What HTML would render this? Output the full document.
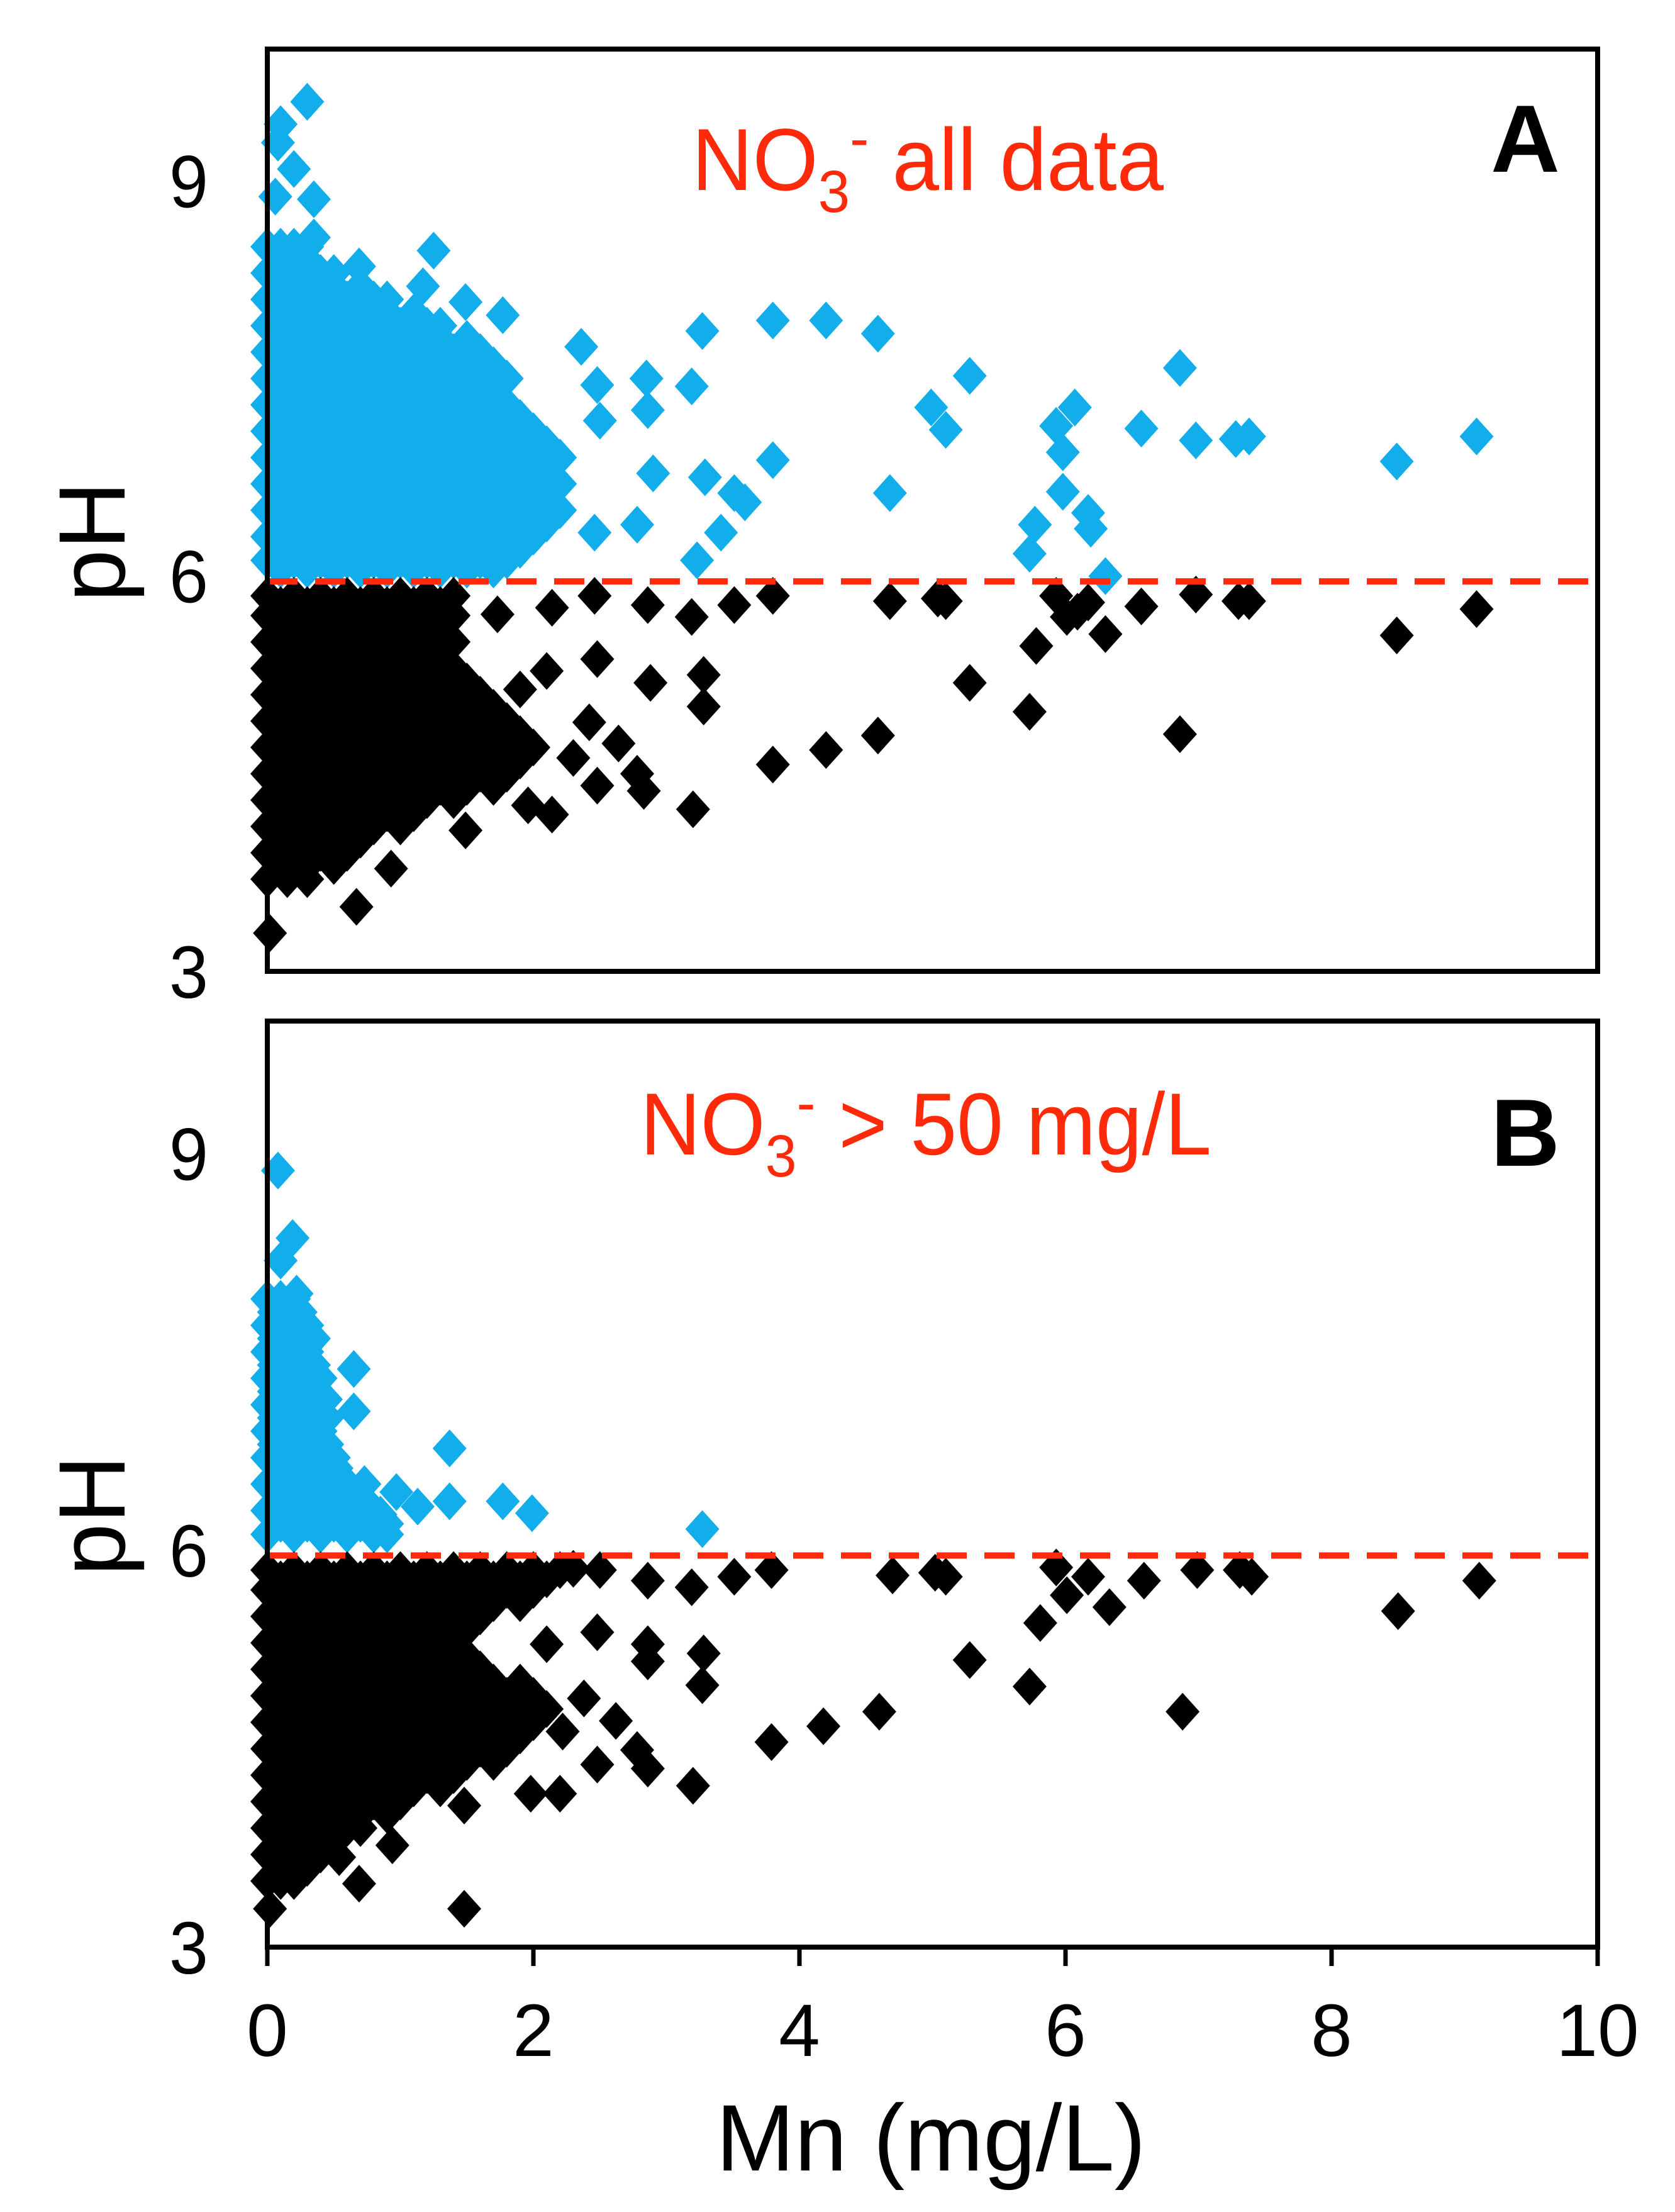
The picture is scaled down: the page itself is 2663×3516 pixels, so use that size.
<!DOCTYPE html>
<html><head><meta charset="utf-8"><style>
html,body{margin:0;padding:0;background:#fff;}
svg{display:block;}
text{font-family:"Liberation Sans",sans-serif;}
</style></head><body>
<svg id="chart" width="2663" height="3516" viewBox="0 0 2663 3516" xmlns="http://www.w3.org/2000/svg">
<g id="panelA"></g>
<g id="panelB"></g>
<g id="axes"></g>
</svg>
<script>
// ---------- DATA ----------
const xTicks = [0, 2, 4, 6, 8, 10];
const yTicks = [3, 6, 9];
const thresholdPH = 5.96;
// Dense cloud rows, panel A: "pH:Mn,Mn,..."
const blueRowsA = [
"8.5:0,0.1,0.2,0.3","8.4:0.1,0.3","8.3:0,0.2,0.4,0.5","8.2:0.1,0.3,0.5,0.7","8.1:0,0.2,0.4,0.6,0.8,0.9",
"8.0:0.1,0.3,0.5,0.7,0.9,1.1",
"7.9:0,0.2,0.4,0.6,0.8,1.0,1.2,1.3","7.8:0.1,0.3,0.5,0.7,0.9,1.1,1.3,1.5",
"7.7:0,0.2,0.4,0.6,0.8,1.0,1.2,1.4,1.6","7.6:0.1,0.3,0.5,0.7,0.9,1.1,1.3,1.5,1.7",
"7.5:0,0.2,0.4,0.6,0.8,1.0,1.2,1.4,1.6,1.8","7.4:0.1,0.3,0.5,0.7,0.9,1.1,1.3,1.5,1.7",
"7.3:0,0.2,0.4,0.6,0.8,1.0,1.2,1.4,1.6,1.8","7.2:0.1,0.3,0.5,0.7,0.9,1.1,1.3,1.5,1.7,1.9",
"7.1:0,0.2,0.4,0.6,0.8,1.0,1.2,1.4,1.6,1.8,2.0","7.0:0.1,0.3,0.5,0.7,0.9,1.1,1.3,1.5,1.7,1.9,2.1",
"6.9:0,0.2,0.4,0.6,0.8,1.0,1.2,1.4,1.6,1.8,2.0,2.2","6.8:0.1,0.3,0.5,0.7,0.9,1.1,1.3,1.5,1.7,1.9,2.1",
"6.7:0,0.2,0.4,0.6,0.8,1.0,1.2,1.4,1.6,1.8,2.0,2.2","6.6:0.1,0.3,0.5,0.7,0.9,1.1,1.3,1.5,1.7,1.9,2.1",
"6.5:0,0.2,0.4,0.6,0.8,1.0,1.2,1.4,1.6,1.8,2.0,2.2","6.4:0.1,0.3,0.5,0.7,0.9,1.1,1.3,1.5,1.7,1.9,2.1",
"6.3:0,0.2,0.4,0.6,0.8,1.0,1.2,1.4,1.6,1.8,2.0","6.2:0.1,0.3,0.5,0.7,0.9,1.1,1.3,1.5,1.7,1.9",
"6.12:0,0.2,0.4,0.6,0.8,1.0,1.2,1.4,1.6,1.8","6.05:0.1,0.3,0.5,0.7,0.9,1.1,1.3,1.5,1.7"
];
const blueOutA = [[0.30,9.60],[0.10,9.43],[0.08,9.29],[0.20,9.09],[0.06,8.88],[0.35,8.86],[0.35,8.57],[1.25,8.47],[0.69,8.35],[1.17,8.20],[1.49,8.08],[1.77,7.98],[2.36,7.74],[3.27,7.86],[3.80,7.94],[4.20,7.94],[4.59,7.84],[2.48,7.45],[2.85,7.50],[3.19,7.44],[2.50,7.18],[2.86,7.26],[5.28,7.52],[6.86,7.58],[4.99,7.28],[5.10,7.11],[6.07,7.28],[5.93,7.14],[6.57,7.12],[6.98,7.03],[7.28,7.04],[7.38,7.06],[8.49,6.87],[9.09,7.06],[3.80,6.88],[2.90,6.78],[3.29,6.75],[3.51,6.63],[3.59,6.56],[4.68,6.63],[5.98,6.64],[5.98,6.94],[5.77,6.39],[6.17,6.48],[6.19,6.36],[5.73,6.17],[6.30,6.00],[3.41,6.33],[2.78,6.39],[2.46,6.33],[3.23,6.12]];
const blackRowsA = [
"5.85:0,0.2,0.4,0.6,0.8,1.0,1.2,1.4","5.78:0.1,0.3,0.5,0.7,0.9,1.1,1.3",
"5.7:0,0.2,0.4,0.6,0.8,1.0,1.2,1.4","5.6:0.1,0.3,0.5,0.7,0.9,1.1,1.3",
"5.5:0,0.2,0.4,0.6,0.8,1.0,1.2,1.4","5.4:0.1,0.3,0.5,0.7,0.9,1.1,1.3",
"5.3:0,0.2,0.4,0.6,0.8,1.0,1.2,1.4","5.2:0.1,0.3,0.5,0.7,0.9,1.1,1.3,1.5",
"5.1:0,0.2,0.4,0.6,0.8,1.0,1.2,1.4,1.6","5.0:0.1,0.3,0.5,0.7,0.9,1.1,1.3,1.5,1.7",
"4.9:0,0.2,0.4,0.6,0.8,1.0,1.2,1.4,1.6,1.8","4.8:0.1,0.3,0.5,0.7,0.9,1.1,1.3,1.5,1.7,1.9",
"4.7:0,0.2,0.4,0.6,0.8,1.0,1.2,1.4,1.6,1.8,2.0","4.6:0.1,0.3,0.5,0.7,0.9,1.1,1.3,1.5,1.7,1.9",
"4.5:0,0.2,0.4,0.6,0.8,1.0,1.2,1.4,1.6,1.8","4.4:0.1,0.3,0.5,0.7,0.9,1.1,1.3,1.5,1.7",
"4.3:0,0.2,0.4,0.6,0.8,1.0,1.2,1.4","4.2:0.1,0.3,0.5,0.7,0.9,1.1",
"4.1:0,0.2,0.4,0.6,0.8,1.0","4.0:0.1,0.3,0.5,0.7","3.9:0,0.2,0.4,0.6","3.8:0.1,0.3,0.5","3.7:0,0.15,0.3"
];
const blackOutA = [[0.02,3.29],[0.67,3.49],[0.93,3.78],[1.49,4.07],[2.14,4.19],[1.96,4.26],[2.48,4.41],[2.83,4.37],[3.20,4.23],[3.80,4.57],[4.20,4.68],[4.59,4.79],[5.73,4.97],[6.86,4.80],[5.28,5.19],[2.88,5.19],[3.28,5.25],[3.28,5.01],[2.48,5.37],[2.10,5.28],[1.90,5.14],[2.42,4.89],[2.64,4.73],[2.30,4.62],[2.78,4.50],[8.49,5.55],[9.09,5.75],[5.78,5.47],[6.01,5.69],[6.30,5.56],[6.57,5.77],[6.98,5.86],[7.30,5.81],[7.38,5.81],[4.68,5.81],[5.04,5.83],[5.10,5.81],[3.80,5.85],[3.51,5.78],[2.86,5.78],[3.19,5.69],[2.46,5.85],[2.14,5.76],[1.73,5.71],[6.17,5.80],[5.93,5.85],[6.09,5.73]];
// Panel B
const blueRowsB = [
"7.9:0,0.1,0.2","7.8:0.05,0.15,0.25","7.7:0,0.1,0.2,0.3","7.6:0.05,0.15,0.25,0.35","7.5:0,0.1,0.2,0.3",
"7.4:0.05,0.15,0.25,0.35","7.3:0,0.1,0.2,0.3,0.4","7.2:0.05,0.15,0.25,0.35","7.1:0,0.1,0.2,0.3,0.4",
"7.0:0.05,0.15,0.25,0.35,0.45","6.9:0,0.1,0.2,0.3,0.4","6.8:0.05,0.15,0.25,0.35,0.45",
"6.7:0,0.1,0.2,0.3,0.4,0.5","6.6:0.1,0.3,0.5","6.5:0,0.2,0.4,0.6","6.4:0.1,0.3,0.5,0.7",
"6.3:0,0.2,0.4,0.6,0.8","6.2:0.1,0.3,0.5,0.7,0.9","6.12:0,0.2,0.4,0.6,0.8,0.9"
];
const blueOutB = [[0.08,8.87],[0.19,8.36],[0.10,8.19],[0.22,7.94],[0.65,7.37],[0.65,7.05],[1.37,6.77],[1.37,6.37],[1.77,6.37],[1.99,6.28],[3.27,6.16],[0.97,6.44],[1.13,6.33],[0.73,6.50],[0.85,6.27],[0.52,6.62],[0.36,6.97],[0.44,7.14]];
const blackRowsB = [
"5.85:0,0.2,0.4,0.6,0.8,1.0,1.2,1.4,1.6,1.8,2.0,2.2","5.78:0.1,0.3,0.5,0.7,0.9,1.1,1.3,1.5,1.7,1.9,2.1",
"5.7:0,0.2,0.4,0.6,0.8,1.0,1.2,1.4,1.6,1.8,2.0","5.6:0.1,0.3,0.5,0.7,0.9,1.1,1.3,1.5,1.7,1.9",
"5.5:0,0.2,0.4,0.6,0.8,1.0,1.2,1.4,1.6","5.4:0.1,0.3,0.5,0.7,0.9,1.1,1.3,1.5",
"5.3:0,0.2,0.4,0.6,0.8,1.0,1.2,1.4","5.2:0.1,0.3,0.5,0.7,0.9,1.1,1.3,1.5",
"5.1:0,0.2,0.4,0.6,0.8,1.0,1.2,1.4,1.6","5.0:0.1,0.3,0.5,0.7,0.9,1.1,1.3,1.5,1.7,1.9",
"4.9:0,0.2,0.4,0.6,0.8,1.0,1.2,1.4,1.6,1.8,2.0","4.8:0.1,0.3,0.5,0.7,0.9,1.1,1.3,1.5,1.7,1.9,2.1",
"4.7:0,0.2,0.4,0.6,0.8,1.0,1.2,1.4,1.6,1.8,2.0","4.6:0.1,0.3,0.5,0.7,0.9,1.1,1.3,1.5,1.7,1.9",
"4.5:0,0.2,0.4,0.6,0.8,1.0,1.2,1.4,1.6,1.8","4.4:0.1,0.3,0.5,0.7,0.9,1.1,1.3,1.5,1.7",
"4.3:0,0.2,0.4,0.6,0.8,1.0,1.2,1.4","4.2:0.1,0.3,0.5,0.7,0.9,1.1,1.3",
"4.1:0,0.2,0.4,0.6,0.8,1.0","4.0:0.1,0.3,0.5,0.7,0.9","3.9:0,0.2,0.4,0.6,0.7","3.8:0.1,0.3,0.5",
"3.7:0,0.2,0.4","3.6:0.1,0.3","3.5:0,0.1,0.2"
];
const blackOutB = [[0.02,3.29],[1.48,3.29],[0.69,3.48],[0.94,3.77],[0.54,3.68],[1.48,4.07],[1.98,4.16],[2.20,4.16],[3.20,4.22],[2.86,4.35],[2.48,4.38],[2.78,4.49],[3.79,4.55],[4.18,4.67],[4.60,4.78],[5.73,4.97],[6.88,4.78],[5.28,5.17],[3.27,4.98],[3.28,5.22],[2.86,5.16],[2.86,5.29],[2.48,5.38],[2.10,5.29],[2.38,4.88],[2.62,4.71],[2.22,4.63],[8.50,5.54],[9.11,5.77],[5.81,5.45],[6.01,5.66],[6.33,5.57],[6.59,5.77],[6.99,5.85],[7.31,5.85],[7.40,5.80],[4.70,5.81],[5.02,5.83],[5.10,5.80],[3.79,5.85],[3.51,5.80],[3.19,5.72],[2.86,5.77],[2.50,5.85],[2.30,5.86],[6.17,5.80],[5.93,5.87]];

// ---------- LAYOUT ----------
const NS = "http://www.w3.org/2000/svg";
const X0 = 425, X1 = 2540;
const xMin = 0, xMax = 10, yMin = 3, yMax = 10;
const panels = [
  {g:"panelA", top:78, bottom:1544, blueRows:blueRowsA, blueOut:blueOutA, blackRows:blackRowsA, blackOut:blackOutA,
   letter:"A", title:" all data", letterBase:273, titleBase:302, titleX:1100, titleLen:750},
  {g:"panelB", top:1623, bottom:3095, blueRows:blueRowsB, blueOut:blueOutB, blackRows:blackRowsB, blackOut:blackOutB,
   letter:"B", title:" > 50 mg/L", letterBase:1853, titleBase:1835, titleX:1018, titleLen:908}
];
function xScale(v){ return X0 + (v - xMin) / (xMax - xMin) * (X1 - X0); }
function yScaleFor(p){ return v => p.bottom - (v - yMin) / (yMax - yMin) * (p.bottom - p.top); }
function mk(tag, attrs, parent){ const e = document.createElementNS(NS, tag); for (const k in attrs) e.setAttribute(k, attrs[k]); parent.appendChild(e); return e; }
function parseRows(rows){ const out = []; rows.forEach(r => { const [ph, xs] = r.split(":"); xs.split(",").forEach(x => out.push([+x, +ph])); }); return out; }
const HW = 27, HH = 30;

panels.forEach((p, pi) => {
  const g = document.getElementById(p.g);
  const ys = yScaleFor(p);
  function diamonds(pts, color, name){
    const grp = mk("g", {fill: color}, g);
    
    
    pts.forEach(([x, y]) => {
      const cx = xScale(x), cy = ys(y);
      const d = mk("path", {d: `M${cx} ${cy-HH}L${cx+HW} ${cy}L${cx} ${cy+HH}L${cx-HW} ${cy}Z`}, grp);
      
      
    });
  }
  diamonds(parseRows(p.blueRows).concat(p.blueOut), "#12aeec", "ph-above-6-series");
  diamonds(parseRows(p.blackRows).concat(p.blackOut), "#000000", "ph-below-6-series");
  const th = mk("line", {x1: X0, x2: X1, y1: ys(thresholdPH), y2: ys(thresholdPH), stroke: "#ff2a0a", "stroke-width": 10, "stroke-dasharray": "48 28"}, g);
  
  
  const fr = mk("rect", {x: X0, y: p.top, width: X1 - X0, height: p.bottom - p.top, fill: "none", stroke: "#000", "stroke-width": 8}, g);
  
  
  yTicks.forEach(t => {
    const tx = mk("text", {x: 300, y: ys(t) + 42, "font-size": 118, "text-anchor": "middle", fill: "#000", textLength: 62, lengthAdjust: "spacingAndGlyphs"}, g);
    tx.textContent = t;
    
    
  });
  const yt = mk("text", {x: 0, y: 0, "font-size": 150, "text-anchor": "middle", fill: "#000", transform: `translate(198 ${(p.top + p.bottom) / 2 + 50}) rotate(-90)`}, g);
  yt.textContent = "pH";
  
  
  const lt = mk("text", {x: 2425, y: p.letterBase, "font-size": 152, "font-weight": "bold", "text-anchor": "middle", fill: "#000"}, g);
  lt.textContent = p.letter;
  
  
  const tt = mk("text", {x: p.titleX, y: p.titleBase, "font-size": 140, fill: "#ff2a0a", textLength: p.titleLen, lengthAdjust: "spacingAndGlyphs"}, g);
  
  
  const t1 = mk("tspan", {}, tt); t1.textContent = "NO";
  const t2 = mk("tspan", {dy: 35, "font-size": 95}, tt); t2.textContent = "3";
  const t3 = mk("tspan", {dy: -85, "font-size": 95}, tt); t3.textContent = "-";
  const t4 = mk("tspan", {dy: 50}, tt); t4.textContent = p.title;
});

// x axis ticks and labels (panel B bottom)
const ax = document.getElementById("axes");
const pb = panels[1];
xTicks.forEach(t => {
  const tl = mk("line", {x1: xScale(t), x2: xScale(t), y1: pb.bottom, y2: pb.bottom + 30, stroke: "#000", "stroke-width": 7}, ax);
  
  
  const tx = mk("text", {x: xScale(t), y: 3268, "font-size": 118, "text-anchor": "middle", fill: "#000"}, ax);
  tx.textContent = t;
  
  
});
const xt = mk("text", {x: 1480, y: 3450, "font-size": 150, "text-anchor": "middle", fill: "#000"}, ax);
xt.textContent = "Mn (mg/L)";


</script>
</body></html>
